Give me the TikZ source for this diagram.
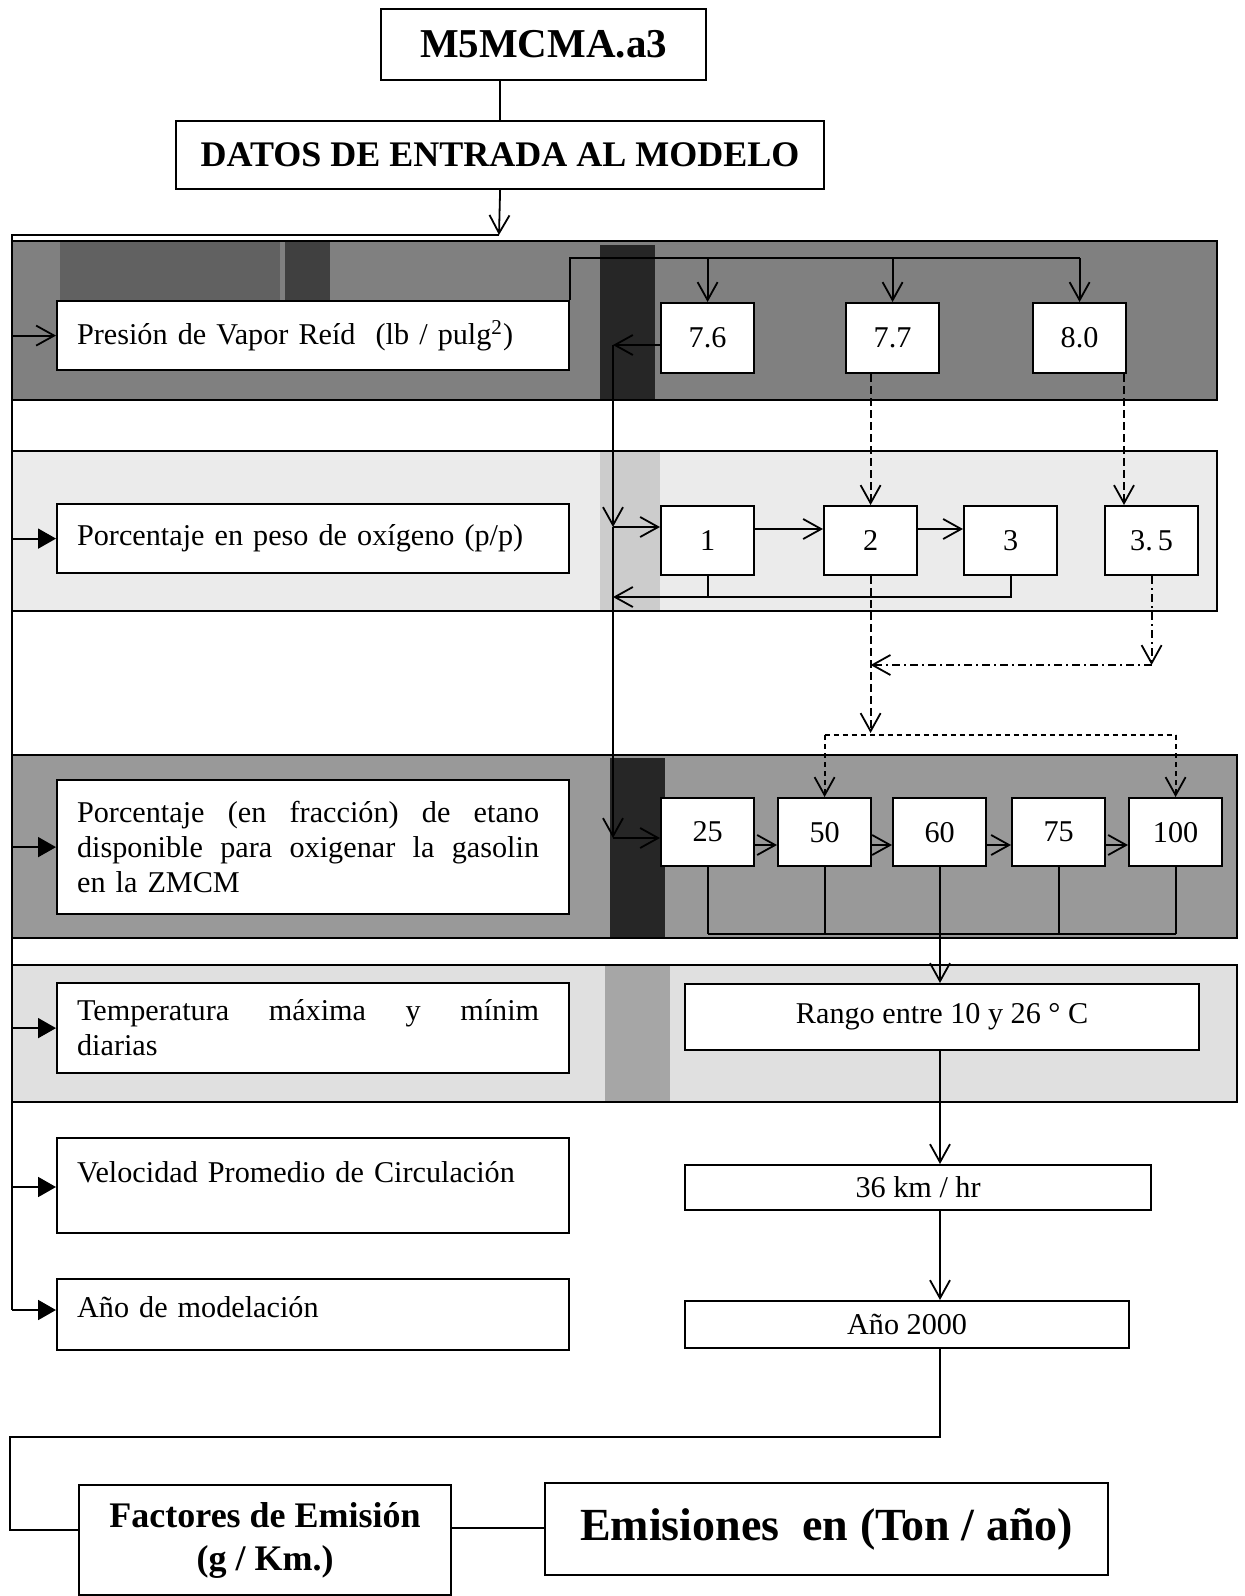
\documentclass[tikz,border=0pt]{standalone}
\usepackage{fontspec}
\setmainfont{Liberation Serif}
\usetikzlibrary{arrows.meta}
\begin{document}
\begin{tikzpicture}[x=0.5pt,y=-0.5pt,
  box/.style={draw, fill=white, line width=1.1pt, inner sep=0pt,
    font=\fontsize{15.1}{17.5}\selectfont},
  lbox/.style={box, anchor=north west, minimum width=256pt,
    text width=236pt, inner xsep=10pt, align=left},
  nbox/.style={box, anchor=north west, minimum width=46.5pt},
  cbox/.style={box, anchor=north west, align=center},
  conn/.style={line width=0.9pt},
  open/.style={conn, -{Straight Barb[length=9pt,width=10pt]}},
  filled/.style={conn, -{Triangle[length=9pt,width=10pt]}},
  dsh/.style={dash pattern=on 4pt off 2pt},
  dshort/.style={dash pattern=on 2.5pt off 2pt},
  ddot/.style={dash pattern=on 4pt off 2pt on 1pt off 2pt},
  band/.style={draw=black, line width=1.3pt}
]
\useasboundingbox (0,0) rectangle (1245,1596);

% ---------- bands ----------
\fill[black!50] (12,241) rectangle (1217,400);
\fill[black!62] (60,241) rectangle (280,300);
\fill[black!85] (600,245) rectangle (655,400);
\fill[black!75] (285,241) rectangle (330,300);
\draw[band] (12,241) rectangle (1217,400);

\fill[black!8] (12,451) rectangle (1217,611);
\fill[black!20] (600,451) rectangle (660,611);
\draw[band, line width=1pt] (12,451) rectangle (1217,611);

\fill[black!40] (12,755) rectangle (1237,938);
\fill[black!85] (610,758) rectangle (665,938);
\draw[band] (12,755) rectangle (1237,938);

\fill[black!12] (12,965) rectangle (1237,1102);
\fill[black!35] (605,965) rectangle (670,1102);
\draw[band, line width=1pt] (12,965) rectangle (1237,1102);

% ---------- header ----------
\node[cbox, minimum width=162.5pt, minimum height=35.5pt,
  font=\fontsize{20.5}{24}\selectfont\bfseries] (top) at (380,8) {M5MCMA.a3};
\node[cbox, minimum width=324pt, minimum height=34pt,
  font=\fontsize{18}{22}\selectfont\bfseries] (datos) at (175,120) {DATOS DE ENTRADA AL MODELO};

% ---------- left boxes ----------
\node[lbox, minimum height=34.5pt] (pres) at (56,300)
  {Presión de Vapor Reíd\ \ (lb / pulg\textsuperscript{2})};
\node[lbox, minimum height=34.5pt] (oxi) at (56,503)
  {Porcentaje en peso de oxígeno (p/p)};
\node[lbox, minimum height=67pt] (etano) at (56,779)
  {\makebox[231pt][s]{Porcentaje\hfill (en\hfill fracción)\hfill de\hfill etano}\\
   \makebox[231pt][s]{disponible\hfill para\hfill oxigenar\hfill la\hfill gasolin}\\
   en la ZMCM};
\node[lbox, minimum height=45pt] (temp) at (56,982)
  {\makebox[231pt][s]{Temperatura\hfill máxima\hfill y\hfill mínim}\\ diarias};
\node[lbox, text height=22pt, text depth=25.5pt, inner ysep=0pt] (vel) at (56,1137)
  {Velocidad Promedio de Circulación};
\node[lbox, text height=19pt, text depth=16.5pt, inner ysep=0pt] (anom) at (56,1278)
  {Año de modelación};

% ---------- row 1 values ----------
\node[nbox, minimum height=35pt] (v76) at (660,302) {7.6};
\node[nbox, minimum height=35pt] (v77) at (845,302) {7.7};
\node[nbox, minimum height=35pt] (v80) at (1032,302) {8.0};

% ---------- row 2 values ----------
\node[nbox, minimum height=34.5pt] (one) at (660,505) {1};
\node[nbox, minimum height=34.5pt] (two) at (823,505) {2};
\node[nbox, minimum height=34.5pt] (three) at (963,505) {3};
\node[nbox, minimum height=34.5pt] (p35) at (1104,505) {3.\,5};

% ---------- row 3 values ----------
\node[nbox, minimum height=34pt] (v25) at (660,797) {25};
\node[nbox, minimum height=34pt] (v50) at (777,797) {50};
\node[nbox, minimum height=34pt] (v60) at (892,797) {60};
\node[nbox, minimum height=34pt] (v75) at (1011,797) {75};
\node[nbox, minimum height=34pt] (v100) at (1128,797) {100};

% ---------- right chain ----------
\node[cbox, minimum width=257pt, minimum height=33pt] (rango) at (684,983) {Rango entre 10 y 26 ° C};
\node[cbox, minimum width=233pt, minimum height=22.5pt] (km) at (684,1164) {36 km / hr};
\node[cbox, minimum width=222pt, minimum height=23.5pt] (a2000) at (684,1300) {Año 2000};

% ---------- bottom ----------
\node[cbox, minimum width=186pt, minimum height=55pt,
  font=\fontsize{18}{21.5}\selectfont\bfseries] (fact) at (78,1484)
  {Factores de Emisión\\(g / Km.)};
\node[cbox, minimum width=281.5pt, minimum height=46pt,
  font=\fontsize{23}{27}\selectfont\bfseries] (emis) at (544,1482)
  {Emisiones\ \ en (Ton / año)};

% ---------- coordinates ----------
\coordinate (bus) at (499,235);
\coordinate (xb) at (12,0);
\coordinate (xm) at (940,0);
\coordinate (xa) at (1124,0);

% ---------- connectors: header and bus ----------
\draw[conn] (top.south -| datos.north) -- (datos.north);
\draw[open] (datos.south) -- (bus);
\draw[conn] (bus) -| (12,1310);
\draw[open] (pres.west -| xb) -- (pres.west);
\draw[filled] (oxi.west -| xb) -- (oxi.west);
\draw[filled] (etano.west -| xb) -- (etano.west);
\draw[filled] (temp.west -| xb) -- (temp.west);
\draw[filled] (12,1187) -- (vel.west |- 0,1187);
\draw[filled] (12,1310) -- (anom.west |- 0,1310);

% ---------- row 1 bracket ----------
\draw[conn] (pres.north east) |- (v80.north |- 0,258);
\draw[open] (v76.north |- 0,258) -- (v76.north);
\draw[open] (v77.north |- 0,258) -- (v77.north);
\draw[open] (v80.north |- 0,258) -- (v80.north);

% ---------- left vertical feed ----------
\draw[open] (v76.west |- 0,345) -- (613,345);
\draw[open] (613,345) -- (613,527);
\draw[open] (613,527) -- (one.west |- 0,527);
\draw[open] (613,527) -- (613,838);
\draw[open] (613,838) -- (v25.west |- 0,838);

% ---------- row 2 ----------
\draw[open] (one.east |- 0,529) -- (two.west |- 0,529);
\draw[open] (two.east |- 0,529) -- (three.west |- 0,529);
\draw[conn] (one.south) -- (one.south |- 0,597);
\draw[open] (three.south) -- (three.south |- 0,597) -- (613,597);
\draw[open, dsh] (two.north |- v77.south) -- (two.north);
\draw[open, dsh] (v80.south -| xa) -- (p35.north -| xa);

% ---------- between rows 2 and 3 ----------
\draw[open, ddot] (p35.south) -- (p35.south |- 0,665);
\draw[open, ddot] (p35.south |- 0,665) -- (two.south |- 0,665);
\draw[open, dsh] (two.south) -- (two.south |- 0,733);
\draw[conn, dshort] (v50.north |- 0,735) -- (v100.north |- 0,735);
\draw[open, dshort] (v50.north |- 0,735) -- (v50.north);
\draw[open, dshort] (v100.north |- 0,735) -- (v100.north);

% ---------- row 3 ----------
\draw[open] (v25.east |- 0,845) -- (v50.west |- 0,845);
\draw[open] (v50.east |- 0,845) -- (v60.west |- 0,845);
\draw[open] (v60.east |- 0,845) -- (v75.west |- 0,845);
\draw[open] (v75.east |- 0,845) -- (v100.west |- 0,845);
\foreach \n in {v25,v50,v60,v75,v100}
  \draw[conn] (\n.south) -- (\n.south |- 0,934);
\draw[conn] (v25.south |- 0,934) -- (v100.south |- 0,934);

% ---------- right chain ----------
\draw[open] (940,934) -- (rango.north -| xm);
\draw[open] (rango.south -| xm) -- (km.north -| xm);
\draw[open] (km.south -| xm) -- (a2000.north -| xm);
\draw[conn] (a2000.south -| xm) -- (940,1437) -- (10,1437) -- (10,1530) -- (fact.west |- 0,1530);
\draw[conn] (fact.east |- 0,1528) -- (emis.west |- 0,1528);
\end{tikzpicture}
\end{document}
